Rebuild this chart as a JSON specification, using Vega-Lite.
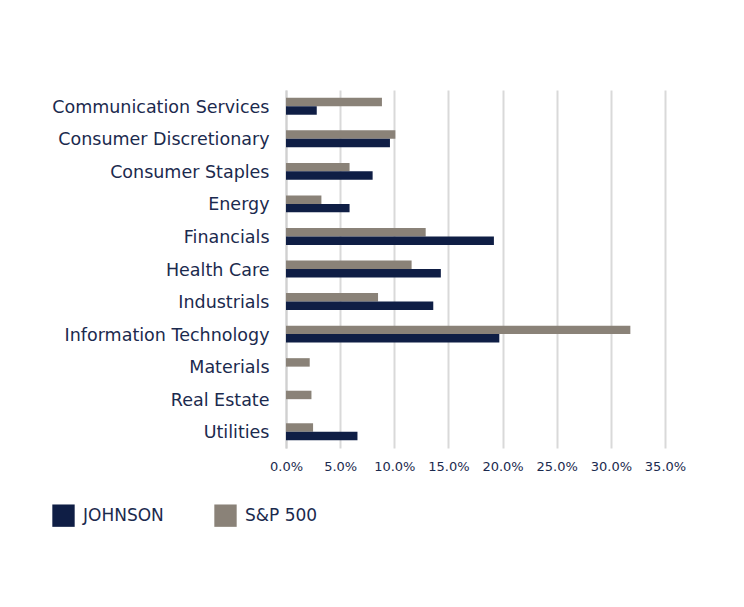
{
  "$schema": "https://vega.github.io/schema/vega-lite/v6.json",
  "autosize": "none",
  "width": 379,
  "height": 358,
  "padding": {"left": 286, "top": 90, "right": 79, "bottom": 159},
  "background": "white",
  "config": {
    "view": {"stroke": null},
    "font": "DejaVu Sans"
  },
  "data": {
    "values": [
      {"sector": "Communication Services", "series": "S&P 500", "value": 0.0886},
      {"sector": "Communication Services", "series": "JOHNSON", "value": 0.0284},
      {"sector": "Consumer Discretionary", "series": "S&P 500", "value": 0.101},
      {"sector": "Consumer Discretionary", "series": "JOHNSON", "value": 0.096},
      {"sector": "Consumer Staples", "series": "S&P 500", "value": 0.0587},
      {"sector": "Consumer Staples", "series": "JOHNSON", "value": 0.080},
      {"sector": "Energy", "series": "S&P 500", "value": 0.0327},
      {"sector": "Energy", "series": "JOHNSON", "value": 0.0587},
      {"sector": "Financials", "series": "S&P 500", "value": 0.129},
      {"sector": "Financials", "series": "JOHNSON", "value": 0.192},
      {"sector": "Health Care", "series": "S&P 500", "value": 0.116},
      {"sector": "Health Care", "series": "JOHNSON", "value": 0.143},
      {"sector": "Industrials", "series": "S&P 500", "value": 0.085},
      {"sector": "Industrials", "series": "JOHNSON", "value": 0.136},
      {"sector": "Information Technology", "series": "S&P 500", "value": 0.318},
      {"sector": "Information Technology", "series": "JOHNSON", "value": 0.197},
      {"sector": "Materials", "series": "S&P 500", "value": 0.0219},
      {"sector": "Materials", "series": "JOHNSON", "value": 0},
      {"sector": "Real Estate", "series": "S&P 500", "value": 0.0235},
      {"sector": "Real Estate", "series": "JOHNSON", "value": 0},
      {"sector": "Utilities", "series": "S&P 500", "value": 0.025},
      {"sector": "Utilities", "series": "JOHNSON", "value": 0.066}
    ]
  },
  "mark": {"type": "bar"},
  "encoding": {
    "y": {
      "field": "sector",
      "type": "nominal",
      "sort": null,
      "scale": {"paddingInner": 0.48, "paddingOuter": 0.24},
      "axis": {
        "title": null,
        "ticks": false,
        "domain": true,
        "domainColor": "#d0d0d0",
        "domainWidth": 2,
        "labelPadding": 17,
        "labelFontSize": 17.5,
        "labelLimit": 400,
        "labelOffset": 1.5,
        "labelColor": "#1b2a4e",
        "labelFont": "DejaVu Sans"
      }
    },
    "yOffset": {
      "field": "series",
      "type": "nominal",
      "sort": ["S&P 500", "JOHNSON"],
      "scale": {"paddingInner": 0}
    },
    "x": {
      "field": "value",
      "type": "quantitative",
      "scale": {"domain": [0, 0.35], "nice": false},
      "axis": {
        "title": null,
        "format": ".1%",
        "values": [0, 0.05, 0.1, 0.15, 0.2, 0.25, 0.3, 0.35],
        "labelOverlap": false,
        "labelFlush": false,
        "labelBound": false,
        "ticks": false,
        "domain": false,
        "grid": true,
        "gridColor": "#d9d9d9",
        "gridWidth": 2,
        "labelPadding": 12,
        "labelFontSize": 13,
        "labelColor": "#1b2a4e",
        "labelFont": "DejaVu Sans"
      }
    },
    "color": {
      "field": "series",
      "type": "nominal",
      "scale": {"domain": ["JOHNSON", "S&P 500"], "range": ["#0f1e45", "#8a8278"]},
      "legend": {
        "title": null,
        "orient": "none",
        "legendX": -234,
        "legendY": 414,
        "direction": "horizontal",
        "symbolType": "square",
        "symbolSize": 500,
        "symbolStrokeWidth": 0,
        "symbolOpacity": 1,
        "labelFontSize": 17,
        "labelColor": "#1b2a4e",
        "labelFont": "DejaVu Sans",
        "labelOffset": 8,
        "labelLimit": 300,
        "columnPadding": 50
      }
    }
  }
}
